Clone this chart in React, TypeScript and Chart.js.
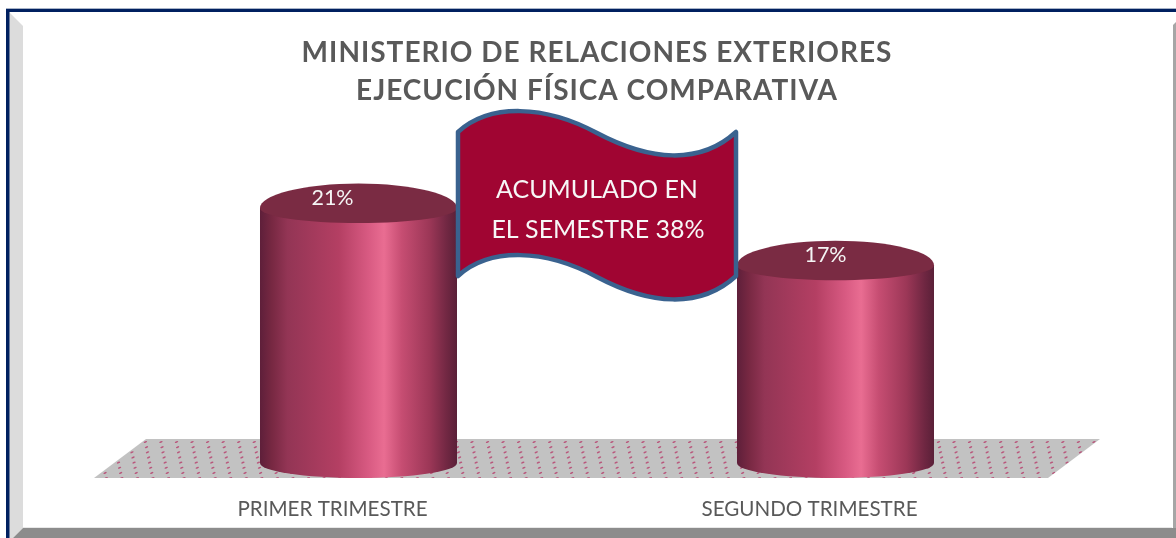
import React, { useEffect, useRef } from "react";
import { Chart, registerables } from "chart.js";

Chart.register(...registerables);

const categories = ["PRIMER TRIMESTRE", "SEGUNDO TRIMESTRE"];
const ejecucion = [21.4, 16.6];
const titleLines = ["MINISTERIO DE RELACIONES EXTERIORES", "EJECUCIÓN FÍSICA COMPARATIVA"];
const bannerLines = ["ACUMULADO EN", "EL SEMESTRE 38%"];

const FONT = "Lato, Carlito, Calibri, sans-serif";
const DEPTH_X = 52;
const DEPTH_Y = 39;
const LABEL_SHIFT = [0, 16];

const framePlugin = {
  id: "frame",
  beforeDraw(chart: any) {
    const c = chart.ctx;
    const W = chart.width;
    const H = chart.height;
    c.save();
    c.fillStyle = "#ffffff";
    c.fillRect(0, 0, W, H);
    // left bevel
    c.fillStyle = "#dcdcdc";
    c.beginPath();
    c.moveTo(9, 12);
    c.lineTo(23, 26);
    c.lineTo(23, 528);
    c.lineTo(9, 542);
    c.closePath();
    c.fill();
    // bottom bevel
    c.fillStyle = "#8c8c8c";
    c.beginPath();
    c.moveTo(23, 528);
    c.lineTo(W, 528);
    c.lineTo(W, H);
    c.lineTo(13, H);
    c.closePath();
    c.fill();
    c.fillStyle = "#e8e8e8";
    c.fillRect(23, 527, W - 27, 1);
    // right bevel
    c.fillStyle = "#a6a6a6";
    c.beginPath();
    c.moveTo(1173, 25);
    c.lineTo(W, 22);
    c.lineTo(W, 528);
    c.lineTo(1173, 528);
    c.closePath();
    c.fill();
    // navy outline
    c.fillStyle = "#a9b4c8";
    c.fillRect(6, 8, W - 6, 1);
    c.fillStyle = "#002060";
    c.fillRect(6, 9, W - 6, 3);
    c.fillRect(6, 9, 3.5, H - 9);
    c.restore();

    // title spacing
    const tb = chart.titleBlock;
    if (tb && !tb.__wrapped) {
      tb.__wrapped = true;
      const orig = tb.draw;
      tb.draw = function (...args: any[]) {
        chart.ctx.letterSpacing = "1px";
        orig.apply(tb, args);
        chart.ctx.letterSpacing = "0px";
      };
    }
  },
  afterLayout(chart: any) {
    const tb = chart.titleBlock;
    if (tb) {
      tb.left += DEPTH_X / 2;
      tb.right += DEPTH_X / 2;
    }
  },
};

const floorPlugin = {
  id: "floor",
  beforeDatasetsDraw(chart: any) {
    const c = chart.ctx;
    const { left, right, bottom } = chart.chartArea;
    c.save();
    c.beginPath();
    c.moveTo(left, bottom);
    c.lineTo(left + DEPTH_X, bottom - DEPTH_Y);
    c.lineTo(right + DEPTH_X, bottom - DEPTH_Y);
    c.lineTo(right, bottom);
    c.closePath();
    c.fillStyle = "#c2c2c2";
    c.fill();
    c.clip();
    c.fillStyle = "#b9577c";
    for (let r = 0; r < 8; r++) {
      const y = bottom - DEPTH_Y + 3 + r * 5.15;
      for (let x = left - 16 + ((r * 1.05 + 5.2) % 15.55); x < right + DEPTH_X + 16; x += 15.55) {
        c.beginPath();
        c.ellipse(x, y, 1.8, 0.8, -0.4, 0, Math.PI * 2);
        c.fill();
      }
    }
    c.restore();
  },
};

const cylinderPlugin = {
  id: "cylinder",
  afterDatasetsDraw(chart: any) {
    const c = chart.ctx;
    const meta = chart.getDatasetMeta(0);
    meta.data.forEach((el: any, i: number) => {
      const cx = el.x + DEPTH_X / 2;
      const rx = el.width / 2;
      const ryBack = 24.5;
      const ryFront = 15;
      const topY = el.y - ryFront;
      const baseY = el.base - ryFront;
      const g = c.createLinearGradient(cx - rx, 0, cx + rx, 0);
      g.addColorStop(0, "#5e1f3a");
      g.addColorStop(0.06, "#772842");
      g.addColorStop(0.14, "#933555");
      g.addColorStop(0.4, "#b43f63");
      g.addColorStop(0.55, "#d85a82");
      g.addColorStop(0.63, "#e96d92");
      g.addColorStop(0.72, "#c64d72");
      g.addColorStop(0.86, "#9c3757");
      g.addColorStop(0.95, "#702742");
      g.addColorStop(1, "#5a2038");
      c.save();
      c.beginPath();
      c.moveTo(cx - rx, topY);
      c.lineTo(cx - rx, baseY);
      c.ellipse(cx, baseY, rx, ryFront, 0, Math.PI, 0, true);
      c.lineTo(cx + rx, topY);
      c.closePath();
      c.fillStyle = g;
      c.fill();
      c.beginPath();
      c.ellipse(cx, topY, rx, ryBack, 0, Math.PI, 0, false);
      c.ellipse(cx, topY, rx, ryFront, 0, 0, Math.PI, false);
      c.closePath();
      c.fillStyle = "#7a2b43";
      c.fill();
      c.fillStyle = "#f5f5f5";
      c.font = `21.5px ${FONT}`;
      c.textAlign = "center";
      c.textBaseline = "middle";
      c.fillText(`${Math.round(ejecucion[i])}%`, el.x + LABEL_SHIFT[i], topY - 10);
      c.restore();
    });

    // wave banner
    c.save();
    c.beginPath();
    c.moveTo(458, 132);
    c.bezierCurveTo(490, 103, 545, 105, 597, 133);
    c.bezierCurveTo(650, 161, 700, 165, 736, 132);
    c.lineTo(736, 276);
    c.bezierCurveTo(700, 309, 650, 305, 597, 277);
    c.bezierCurveTo(545, 249, 490, 247, 458, 276);
    c.closePath();
    c.fillStyle = "#a00532";
    c.fill();
    c.lineWidth = 4.5;
    c.lineJoin = "round";
    c.strokeStyle = "#3a628f";
    c.stroke();
    c.fillStyle = "#f7f7f7";
    c.font = `25px ${FONT}`;
    c.textAlign = "center";
    c.textBaseline = "middle";
    c.fillText(bannerLines[0], 597, 190);
    c.fillText(bannerLines[1], 598, 230);
    c.restore();
  },
};

export default function App() {
  const ref = useRef<HTMLCanvasElement>(null);
  useEffect(() => {
    document.body.style.margin = "0";
    const chart = new Chart(ref.current as HTMLCanvasElement, {
      type: "bar",
      data: {
        labels: categories,
        datasets: [
          {
            label: "Ejecución física",
            data: ejecucion,
            backgroundColor: "rgba(0,0,0,0)",
            categoryPercentage: 1,
            barPercentage: 0.413,
          },
        ],
      },
      options: {
        responsive: false,
        animation: false,
        layout: { padding: { left: 94, right: 128, top: 0, bottom: 0 } },
        plugins: {
          legend: { display: false },
          tooltip: { enabled: false },
          title: {
            display: true,
            text: titleLines,
            color: "#595959",
            font: { family: FONT, size: 28, weight: "bold", lineHeight: 1.36 },
            padding: { top: 34, bottom: 70 },
          },
        },
        scales: {
          x: {
            grid: { display: false },
            border: { display: false },
            afterFit(s: any) {
              s.height = 60;
            },
            ticks: {
              color: "#595959",
              padding: 11,
              font: { family: FONT, size: 20.6 },
              maxRotation: 0,
            },
          },
          y: { display: false, min: 0, max: 25 },
        },
      },
      plugins: [framePlugin, floorPlugin, cylinderPlugin],
    } as any);
    return () => chart.destroy();
  }, []);
  return <canvas ref={ref} width={1176} height={538} style={{ display: "block" }} />;
}
